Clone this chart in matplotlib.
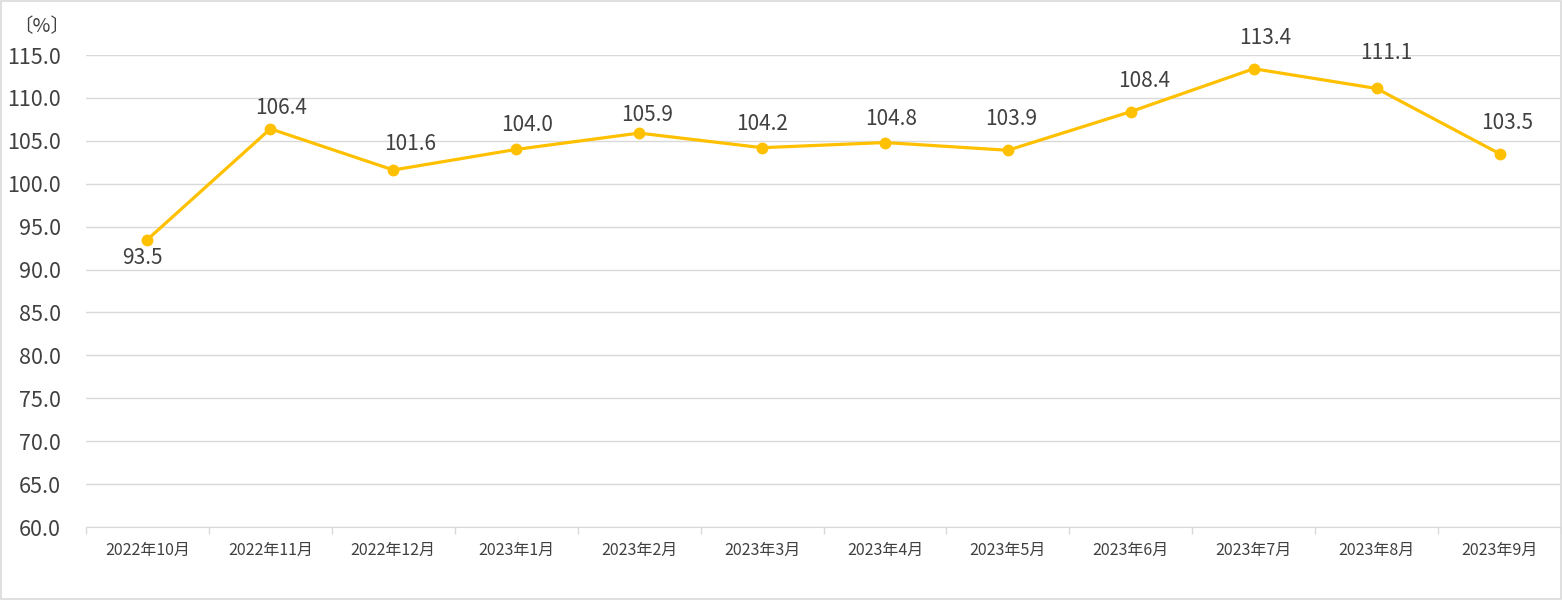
import matplotlib.pyplot as plt
from matplotlib.patches import Rectangle

plt.rcParams['font.family'] = ['Noto Sans CJK JP', 'DejaVu Sans']

months = ['2022年10月', '2022年11月', '2022年12月', '2023年1月', '2023年2月', '2023年3月',
          '2023年4月', '2023年5月', '2023年6月', '2023年7月', '2023年8月', '2023年9月']
values = [93.5, 106.4, 101.6, 104.0, 105.9, 104.2, 104.8, 103.9, 108.4, 113.4, 111.1, 103.5]
yticks = [60, 65, 70, 75, 80, 85, 90, 95, 100, 105, 110, 115]

# label placement relative to each point, in pixels (labels were hand-placed in the original)
label_dx = [-5, 11, 17, 11, 8, 0, 6, 3, 13, 11, 10, 8]
label_dy = [-18, 21, 26, 24, 18, 24, 24, 31, 31, 31, 35, 31]

fig = plt.figure(figsize=(15.62, 6.0), dpi=100)
ax = fig.add_axes([86 / 1562, 1 - 527 / 600, 1475 / 1562, 472 / 600])

x = list(range(len(months)))
ax.plot(x, values, color='#FFC000', lw=2.3, marker='o', ms=7.5, zorder=3)

for i, v in enumerate(values):
    ax.annotate(f'{v:.1f}', (i, v), xytext=(label_dx[i], label_dy[i]), textcoords='offset pixels',
                ha='center', va='center', fontsize=15, color='#404040')

ax.set_xlim(-0.5, len(months) - 0.5)
ax.set_ylim(60, 115)
ax.set_yticks(yticks)
ax.set_yticklabels([f'{t:.1f}' for t in yticks], fontsize=15.5, color='#404040')
ax.grid(axis='y', color='#d9d9d9', lw=1)
ax.set_axisbelow(True)

ax.set_xticks(x)
ax.set_xticklabels(months, fontsize=11.5, color='#404040')
ax.tick_params(axis='x', length=0, pad=11)
ax.tick_params(axis='y', length=0, pad=18)
ax.set_xticks([i - 0.5 for i in range(len(months) + 1)], minor=True)
ax.tick_params(axis='x', which='minor', length=5, color='#d9d9d9', width=1)

for s in ['top', 'right', 'left']:
    ax.spines[s].set_visible(False)
ax.spines['bottom'].set_color('#d9d9d9')

fig.text(42 / 1562, 1 - 27 / 600, '〔%〕', fontsize=14, color='#404040',
         ha='center', va='center')

fig.patches.append(Rectangle((0.0005, 0.001), 0.999, 0.998, transform=fig.transFigure,
                             fill=False, edgecolor='#d9d9d9', lw=1.2))

fig.savefig('out.png', dpi=100)
